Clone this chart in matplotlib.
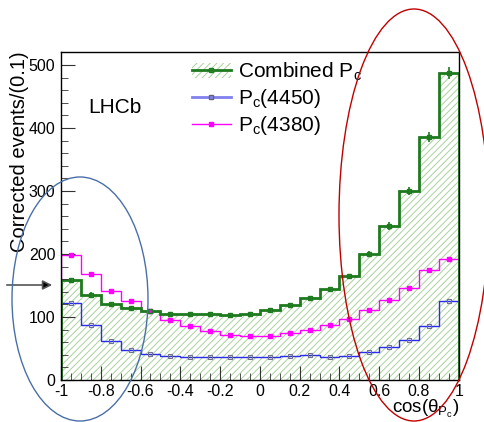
import numpy as np
import matplotlib
matplotlib.use("Agg")
import matplotlib.pyplot as plt
from matplotlib.patches import Ellipse, Patch
from matplotlib.lines import Line2D

plt.rcParams['font.family'] = ['Liberation Sans', 'DejaVu Sans']
plt.rcParams['mathtext.fontset'] = 'custom'
plt.rcParams['mathtext.rm'] = 'Liberation Sans'
plt.rcParams['mathtext.it'] = 'Liberation Sans'
plt.rcParams['hatch.linewidth'] = 0.7

# bin edges of cos(theta_Pc), 20 bins of width 0.1
edges = np.round(np.linspace(-1, 1, 21), 2)
centers = (edges[:-1] + edges[1:]) / 2

combined = [158, 135, 120, 114, 109, 104, 105, 105, 103, 105,
            111, 119, 130, 144, 165, 200, 244, 300, 386, 487]
combined_err = [4, 4, 3, 3, 3, 3, 3, 3, 3, 3,
                3, 3, 3, 4, 4, 5, 6, 6, 8, 10]
pc4450 = [123, 87, 62, 48, 42, 37.5, 36, 36, 36, 37,
          37, 38, 39.5, 36.5, 38, 44, 52, 63, 86, 126]
pc4380 = [199, 168, 142, 126, 110, 95, 86, 78.5, 71, 70,
          70, 74, 79, 87, 97.5, 111, 127, 145.5, 174, 192.5]

green = '#1e7a1e'
hatch_green = '#a9d19c'
blue = '#2b2bea'
magenta = '#ff00ff'

fig = plt.figure(figsize=(4.84, 4.22), dpi=100)
ax = fig.add_axes([0.126, 0.0995, 0.822, 0.778])

# hatched fill under the combined distribution
ax.stairs(combined, edges, baseline=0, fill=True, facecolor='white',
          edgecolor=hatch_green, hatch='/////', linewidth=0)
ax.stairs(pc4450, edges, baseline=0, color=blue, linewidth=1)
ax.stairs(pc4380, edges, baseline=0, color=magenta, linewidth=1)
ax.stairs(combined, edges, baseline=0, color=green, linewidth=2)

ax.errorbar(centers, pc4450, fmt='s', ms=3, mfc='none', mec='#707090', mew=0.8,
            ecolor=blue, elinewidth=0.8)
ax.errorbar(centers, pc4380, fmt='s', ms=3, mfc=magenta, mec=magenta,
            ecolor=magenta, elinewidth=0.8)
ax.errorbar(centers, combined, yerr=combined_err, fmt='s', ms=3.5, mfc='none',
            mec=green, mew=1, ecolor=green, elinewidth=1.2, capsize=0)

ax.set_xlim(-1, 1)
ax.set_ylim(0, 521)
ax.set_xticks(np.round(np.arange(-1, 1.01, 0.2), 1))
ax.set_xticklabels(['-1', '-0.8', '-0.6', '-0.4', '-0.2', '0',
                    '0.2', '0.4', '0.6', '0.8', '1'])
ax.set_xticks(np.arange(-1, 1.001, 0.05), minor=True)
ax.set_yticks([0, 100, 200, 300, 400, 500])
ax.set_yticks(np.arange(0, 521, 20), minor=True)
ax.tick_params(which='both', direction='in', labelsize=11.5, color='#333333')
ax.tick_params(axis='x', which='major', length=10, pad=3)
ax.tick_params(axis='x', which='minor', length=5)
ax.tick_params(axis='y', which='major', length=10, pad=4)
ax.tick_params(axis='y', which='minor', length=5)
for s in ax.spines.values():
    s.set_linewidth(1)

ax.set_ylabel('Corrected events/(0.1)', fontsize=14.5, loc='top', labelpad=0)
ax.set_xlabel(r'cos($\theta_{\rm P_c}$)', fontsize=13.5, loc='right', labelpad=-1)

ax.text(0.068, 0.83, 'LHCb', transform=ax.transAxes, fontsize=15, va='center')

h_comb = (Patch(facecolor='white', edgecolor=hatch_green, hatch='/////', lw=0),
          Line2D([], [], color=green, lw=2, marker='s', ms=3.5, mfc='none', mec=green))
h_4450 = Line2D([], [], color='#8080ee', lw=2, marker='s', ms=3, mfc='none', mec='#606080')
h_4380 = Line2D([], [], color=magenta, lw=1, marker='s', ms=3, mfc=magenta)
ax.legend([h_comb, h_4450, h_4380],
          [r'Combined P$_{\rm c}$', r'P$_{\rm c}$(4450)', r'P$_{\rm c}$(4380)'],
          loc='upper left', bbox_to_anchor=(0.397, 0.856), bbox_transform=fig.transFigure,
          frameon=False, fontsize=15, handlelength=1.85, handletextpad=0.35,
          labelspacing=0.2, borderpad=0, borderaxespad=0)

# annotations drawn over the figure
fig.add_artist(Ellipse((80 / 484, 1 - 299 / 422), 136 / 484, 244 / 422,
                       transform=fig.transFigure, fill=False, ec='#4a6fa8', lw=1))
fig.add_artist(Ellipse((414 / 484, 1 - 215 / 422), 150 / 484, 412 / 422,
                       transform=fig.transFigure, fill=False, ec='#c00000', lw=1))
ax.annotate('', xy=(55, 137), xytext=(4, 137), xycoords='figure pixels',
            textcoords='figure pixels',
            arrowprops=dict(arrowstyle='-|>', color='#555555', lw=1.2,
                            mutation_scale=14, fc='black'),
            annotation_clip=False)

fig.savefig('out.png', dpi=100)
